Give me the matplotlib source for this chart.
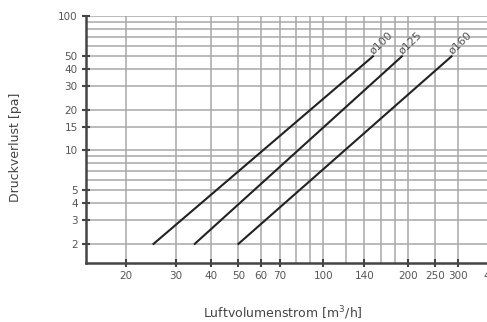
import matplotlib
matplotlib.use('Agg')
import matplotlib.pyplot as plt
from matplotlib.ticker import FixedLocator, NullLocator, NullFormatter

# duct diameters and their pressure-loss lines (flow m3/h, loss pa)
labels = ['ø100', 'ø125', 'ø160']
flow_start = [25, 35, 50]
flow_end = [150, 190, 285]
loss_start = [2, 2, 2]
loss_end = [50, 50, 50]

x_ticks = [20, 30, 40, 50, 60, 70, 100, 140, 200, 250, 300, 400]
x_grid = [20, 30, 40, 50, 60, 70, 80, 90, 100, 120, 140, 160, 180, 200, 250, 300, 400]
y_ticks = [2, 3, 4, 5, 10, 15, 20, 30, 40, 50, 100]
y_grid = [2, 3, 4, 5, 6, 7, 8, 9, 10, 15, 20, 30, 40, 50, 60, 70, 80, 90, 100]

fig = plt.figure(figsize=(4.87, 3.22), dpi=100)
ax = fig.add_axes([86 / 487, 1 - 263 / 322, 407 / 487, 247 / 322])
ax.set_xscale('log')
ax.set_yscale('log')
ax.set_xlim(14.4, 400)
ax.set_ylim(1.44, 100)

for v in x_grid:
    ax.axvline(v, color='#a8a8a8', lw=1.1, zorder=1)
for v in y_grid:
    ax.axhline(v, color='#a8a8a8', lw=1.1, zorder=1)

for lab, x0, x1, y0, y1 in zip(labels, flow_start, flow_end, loss_start, loss_end):
    ax.plot([x0, x1], [y0, y1], color='#222222', lw=1.5, zorder=3)
    ax.text(x1 * 1.015, y1 * 1.0, lab, rotation=44, fontsize=8, color='#555555',
            ha='left', va='bottom', rotation_mode='anchor')

ax.xaxis.set_major_locator(FixedLocator(x_ticks))
ax.xaxis.set_minor_locator(NullLocator())
ax.xaxis.set_minor_formatter(NullFormatter())
ax.set_xticklabels([str(t) for t in x_ticks])
ax.yaxis.set_major_locator(FixedLocator(y_ticks))
ax.yaxis.set_minor_locator(NullLocator())
ax.yaxis.set_minor_formatter(NullFormatter())
ax.set_yticklabels([str(t) for t in y_ticks])

ax.tick_params(direction='inout', length=6, width=1.5, color='#444444',
               labelsize=7.5, labelcolor='#555555', pad=3)
for s in ['top', 'right']:
    ax.spines[s].set_visible(False)
for s in ['left', 'bottom']:
    ax.spines[s].set_color('#444444')
    ax.spines[s].set_linewidth(1.8)

fig.text(283 / 487, 1 - 313 / 322, 'Luftvolumenstrom [m$^3$/h]', ha='center', va='center',
         fontsize=9, color='#444444')
fig.text(16 / 487, 1 - 147 / 322, 'Druckverlust [pa]', ha='center', va='center',
         rotation=90, fontsize=9, color='#444444')

fig.savefig('out.png', dpi=100)
